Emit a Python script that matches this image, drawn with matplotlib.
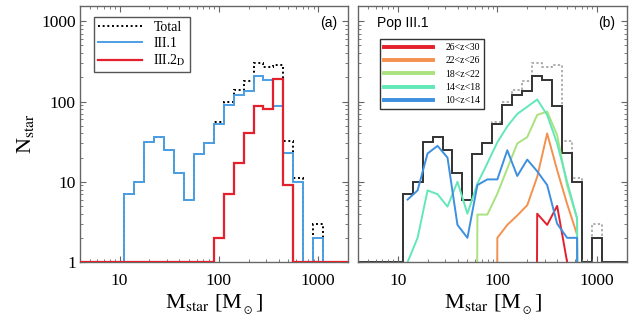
import numpy as np
import matplotlib
matplotlib.use("Agg")
import matplotlib.pyplot as plt
from matplotlib.ticker import LogLocator, FixedLocator, NullFormatter

plt.rcParams.update({
    "font.family": ["Liberation Serif", "DejaVu Serif"],
    "mathtext.fontset": "stix",
    "axes.edgecolor": "#666666",
    "axes.linewidth": 1.0,
    "xtick.direction": "in",
    "ytick.direction": "in",
    "xtick.top": True,
    "ytick.right": True,
    "xtick.color": "#666666",
    "ytick.color": "#666666",
    "xtick.labelcolor": "black",
    "ytick.labelcolor": "black",
})

# bins are 0.1 dex wide, centred on log10(M) = 1.1 ... 3.0
bin_log = np.round(np.arange(1.1, 3.05, 0.1), 2)

# panel (a) histograms
n_total = [7, 10, 31, 36, 25, 13, 6, 22, 30, 55, 98, 138, 178, 299, 268, 287, 32, 11, 0, 3]
n_pop31 = [7, 10, 31, 36, 25, 13, 6, 22, 30, 53, 91, 121, 137, 210, 187, 89, 23, 10, 0, 2]
n_pop32d = [0, 0, 0, 0, 0, 0, 0, 0, 0, 2, 7, 17, 41, 88, 81, 190, 9, 0, 0, 0]

# panel (b) Pop III.1 split by formation redshift
z_labels = ["26<z<30", "22<z<26", "18<z<22", "14<z<18", "10<z<14"]
z_colors = ["#e3202c", "#f4914f", "#a9e27e", "#62e8b8", "#3d8fe0"]
n_z26_30 = [0, 0, 0, 0, 0, 0, 0, 0, 0, 0, 0, 0, 0, 4.0, 2.9, 5.0, 1, 0, 0, 0]
n_z22_26 = [0, 0, 0, 0, 0, 0, 0, 0, 0, 2, 2.9, 3.8, 5.1, 11.5, 40, 14, 5.3, 2.2, 0, 0]
n_z18_22 = [0, 0, 0, 0, 0, 0, 0, 3.9, 3.9, 7.1, 14.6, 30, 36, 68, 75, 38, 9, 3.5, 0, 0]
n_z14_18 = [1, 2, 7.8, 7.0, 4.9, 10, 4.0, 9.5, 17, 31, 49, 70, 86, 106, 68, 30, 10, 3.5, 0, 0]
n_z10_14 = [6, 7.8, 22.5, 28, 20, 2.9, 2.0, 9.1, 10.7, 10.7, 24.7, 11.8, 18.9, 13.5, 9.1, 3.0, 2.0, 2.0, 0, 0]
z_series = [n_z26_30, n_z22_26, n_z18_22, n_z14_18, n_z10_14]

centers = 10 ** bin_log
edges = 10 ** np.concatenate([[0.5], bin_log - 0.05, [bin_log[-1] + 0.05, 3.5]])


def hist_vals(v):
    # empty bins sit on the plot floor (N=1), padded out to the axis edges
    v = np.maximum(np.asarray(v, float), 1.0)
    return np.concatenate([[1.0], v, [1.0]])


def line_vals(v):
    # zero counts dive straight off the bottom of the log axis
    v = np.asarray(v, float)
    return np.where(v > 0, v, 1e-30)


def style_axes(ax):
    ax.set_xscale("log")
    ax.set_yscale("log")
    ax.set_xlim(4, 2000)
    ax.set_ylim(1, 1550)
    ax.xaxis.set_major_locator(FixedLocator([10, 100, 1000]))
    ax.xaxis.set_minor_locator(LogLocator(base=10, subs=np.arange(2, 10)))
    ax.yaxis.set_major_locator(FixedLocator([1, 10, 100, 1000]))
    ax.yaxis.set_minor_locator(LogLocator(base=10, subs=np.arange(2, 10)))
    ax.xaxis.set_minor_formatter(NullFormatter())
    ax.yaxis.set_minor_formatter(NullFormatter())
    ax.set_xticklabels(["10", "100", "1000"])
    ax.tick_params(which="major", length=4, width=0.8, labelsize=12.5)
    ax.tick_params(which="minor", length=2, width=0.6)
    ax.tick_params(axis="x", pad=8)
    ax.tick_params(axis="y", pad=3)
    ax.set_xlabel(r"M$_{\rm star}$ [M$_{_\odot}$]", fontsize=16, labelpad=2)


fig = plt.figure(figsize=(6.42, 3.19), dpi=100)
fig.patch.set_facecolor("white")

# ── Panel (a) ─────────────────────────────────────────────────────────────
ax1 = fig.add_axes([80 / 642, 1 - 262 / 319, 268 / 642, 256 / 319])
style_axes(ax1)
ax1.set_yticklabels(["1", "10", "100", "1000"])
ax1.set_ylabel(r"N$_{\rm star}$", fontsize=16, labelpad=4)

ax1.stairs(hist_vals(n_total), edges, baseline=None, color="black",
           linewidth=1.4, linestyle=(0, (1, 1.4)), label="Total", zorder=3)
ax1.stairs(hist_vals(n_pop31), edges, baseline=None, color="#4b9fe3",
           linewidth=1.4, label="III.1", zorder=3)
ax1.stairs(hist_vals(n_pop32d), edges, baseline=None, color="#e3202c",
           linewidth=1.6, label=r"III.2$_{\rm D}$", zorder=3)

leg1 = ax1.legend(loc="upper left", bbox_to_anchor=(0.025, 0.985), fontsize=10,
                  handlelength=3.2, handletextpad=0.8, borderpad=0.3,
                  labelspacing=0.2, fancybox=False, framealpha=1)
leg1.get_frame().set_edgecolor("#555555")
leg1.get_frame().set_linewidth(1.0)

ax1.text(0.96, 0.935, "(a)", transform=ax1.transAxes, ha="right", va="center",
         fontsize=10, family="Liberation Sans")

# ── Panel (b) ─────────────────────────────────────────────────────────────
ax2 = fig.add_axes([358 / 642, 1 - 262 / 319, 269 / 642, 256 / 319])
style_axes(ax2)
ax2.set_yticklabels([])

ax2.stairs(hist_vals(n_total), edges, baseline=None, color="#999999",
           linewidth=1.1, linestyle=(0, (1.5, 1.5)))
ax2.stairs(hist_vals(n_pop31), edges, baseline=None, color="#333333",
           linewidth=1.4)

for vals, col, lab in zip(z_series, z_colors, z_labels):
    ax2.plot(centers, line_vals(vals), color=col, linewidth=1.4, label=lab)

leg2 = ax2.legend(loc="upper left", bbox_to_anchor=(0.065, 0.89), fontsize=7,
                  handlelength=5.0, handletextpad=1.3, borderpad=0.4,
                  labelspacing=0.45, fancybox=False, framealpha=1)
leg2.get_frame().set_edgecolor("#333333")
leg2.get_frame().set_linewidth(1.0)
for line in leg2.get_lines():
    line.set_linewidth(2.8)

ax2.text(0.07, 0.935, "Pop III.1", transform=ax2.transAxes, ha="left",
         va="center", fontsize=10, family="Liberation Sans")
ax2.text(0.955, 0.935, "(b)", transform=ax2.transAxes, ha="right",
         va="center", fontsize=10, family="Liberation Sans")

fig.savefig("out.png", dpi=100, facecolor="white")
